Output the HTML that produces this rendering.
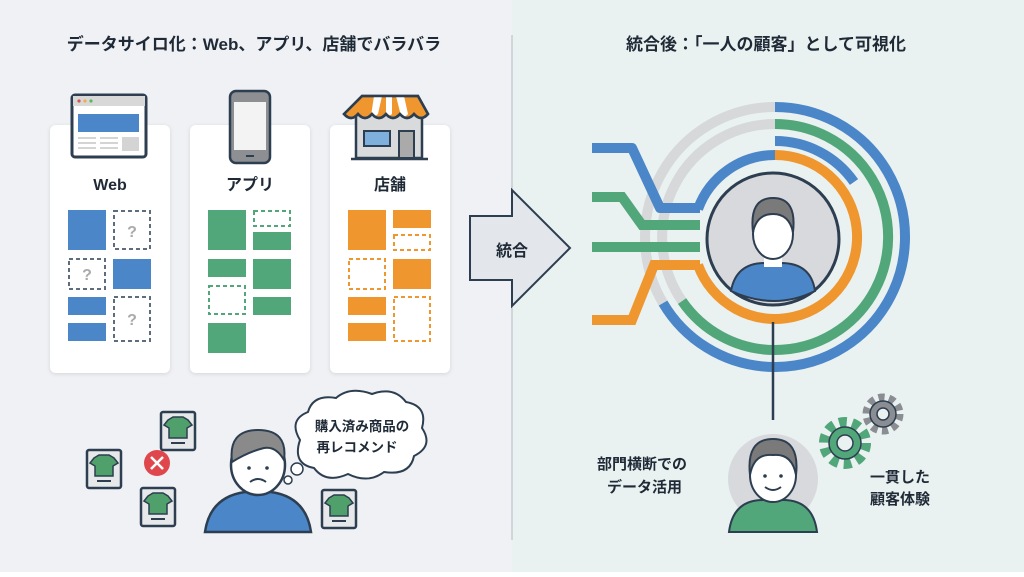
<!DOCTYPE html>
<html><head><meta charset="utf-8"><style>
html,body{margin:0;padding:0}
body{width:1024px;height:572px;overflow:hidden;font-family:"Liberation Sans","Noto Sans CJK JP",sans-serif}
</style></head><body>
<svg width="1024" height="572" viewBox="0 0 1024 572" xmlns="http://www.w3.org/2000/svg" font-family="Liberation Sans, Noto Sans CJK JP, sans-serif">
<defs>
<filter id="sh" x="-10%" y="-10%" width="120%" height="120%"><feDropShadow dx="0" dy="1" stdDeviation="2" flood-color="#000" flood-opacity="0.12"/></filter>
<g id="shirt"><rect x="-17" y="-20" width="34" height="38" fill="#e6e8ea" stroke="#2d3e50" stroke-width="2.5" rx="2"/><path d="M-10,-12 l5,-3 h10 l5,3 l4,5 l-5,3 v10 h-18 v-10 l-5,-3z" fill="#4fa06a" stroke="#2d3e50" stroke-width="1.5"/><line x1="-7" y1="11" x2="7" y2="11" stroke="#2d3e50" stroke-width="2"/></g>
</defs>
<rect width="512" height="572" fill="#eff1f5"/>
<rect x="512" width="512" height="572" fill="#e9f1f1"/>
<line x1="512" y1="35" x2="512" y2="540" stroke="#c8ccd2" stroke-width="1.5"/>
<text x="254" y="50" text-anchor="middle" font-size="17" font-weight="bold" fill="#1f2a36">データサイロ化：Web、アプリ、店舗でバラバラ</text>
<text x="766" y="50" text-anchor="middle" font-size="17" font-weight="bold" fill="#1f2a36">統合後：「一人の顧客」として可視化</text>

<g filter="url(#sh)" fill="#fff">
<rect x="50" y="125" width="120" height="248" rx="6"/>
<rect x="190" y="125" width="120" height="248" rx="6"/>
<rect x="330" y="125" width="120" height="248" rx="6"/>
</g>
<rect x="72" y="95" width="74" height="62" rx="3" fill="#fff" stroke="#2d3e50" stroke-width="3"/>
<rect x="73" y="96" width="72" height="10" fill="#d8d8d8"/>
<circle cx="79" cy="101" r="1.6" fill="#d9534f"/><circle cx="85" cy="101" r="1.6" fill="#f0ad4e"/><circle cx="91" cy="101" r="1.6" fill="#5cb85c"/>
<rect x="78" y="114" width="61" height="18" fill="#4a86c8"/>
<g fill="#d4d4d4"><rect x="78" y="137" width="18" height="2"/><rect x="100" y="137" width="18" height="2"/><rect x="78" y="142" width="18" height="2"/><rect x="100" y="142" width="18" height="2"/><rect x="78" y="147" width="18" height="2"/><rect x="100" y="147" width="18" height="2"/><rect x="122" y="137" width="17" height="14"/></g>
<rect x="230" y="91" width="40" height="72" rx="6" fill="#8d8f93" stroke="#2d3e50" stroke-width="2.5"/>
<rect x="234" y="102" width="32" height="48" fill="#f3f3f3"/>
<rect x="246" y="155" width="8" height="2" fill="#2d3e50"/>
<rect x="356" y="113" width="66" height="45" fill="#d9dadc" stroke="#2d3e50" stroke-width="2.5"/>
<rect x="364" y="131" width="26" height="15" fill="#7fb0dc" stroke="#2d3e50" stroke-width="2"/>
<rect x="399" y="131" width="15" height="27" fill="#aaa" stroke="#2d3e50" stroke-width="2"/>
<path d="M362,96 h56 l10,18 q-7,8 -14,0 q-7,8 -14,0 q-7,8 -14,0 q-7,8 -14,0 q-7,8 -14,0 q-7,8 -14,0z" fill="#f0962e" stroke="#2d3e50" stroke-width="2.5"/>
<g fill="#fff"><path d="M374,96 h8 l-4,18 q-4,4 -7,2z"/><path d="M396,96 h8 l4,18 q-3,4 -7,2z"/><path d="M386,96 h6 v18 q-3,3 -6,0z"/></g>
<path d="M362,96 h56 l10,18 q-7,8 -14,0 q-7,8 -14,0 q-7,8 -14,0 q-7,8 -14,0 q-7,8 -14,0 q-7,8 -14,0z" fill="none" stroke="#2d3e50" stroke-width="2.5"/>
<line x1="351" y1="159" x2="428" y2="159" stroke="#2d3e50" stroke-width="2.5"/>
<g font-size="16" font-weight="bold" fill="#1f2a36" text-anchor="middle">
<text x="110" y="190">Web</text><text x="250" y="190">アプリ</text><text x="390" y="190">店舗</text></g>
<g fill="#4a86c8"><rect x="68" y="210" width="38" height="40"/><rect x="113" y="259" width="38" height="30"/><rect x="68" y="297" width="38" height="18"/><rect x="68" y="323" width="38" height="18"/></g>
<g fill="none" stroke="#5d6d7e" stroke-width="2" stroke-dasharray="4,3"><rect x="114" y="211" width="36" height="38"/><rect x="69" y="259" width="36" height="30"/><rect x="114" y="297" width="36" height="44"/></g>
<g fill="#aaa" font-size="16" font-weight="bold" text-anchor="middle"><text x="132" y="237">?</text><text x="87" y="280">?</text><text x="132" y="325">?</text></g>
<g fill="#52a77a"><rect x="208" y="210" width="38" height="40"/><rect x="253" y="232" width="38" height="18"/><rect x="208" y="259" width="38" height="18"/><rect x="253" y="259" width="38" height="30"/><rect x="253" y="297" width="38" height="18"/><rect x="208" y="323" width="38" height="30"/></g>
<g fill="none" stroke="#52a77a" stroke-width="2" stroke-dasharray="4,3"><rect x="254" y="211" width="36" height="15"/><rect x="209" y="286" width="36" height="28"/></g>
<g fill="#f0962e"><rect x="348" y="210" width="38" height="40"/><rect x="393" y="210" width="38" height="18"/><rect x="393" y="259" width="38" height="30"/><rect x="348" y="297" width="38" height="18"/><rect x="348" y="323" width="38" height="18"/></g>
<g fill="none" stroke="#f0962e" stroke-width="2" stroke-dasharray="4,3"><rect x="394" y="235" width="36" height="15"/><rect x="349" y="259" width="36" height="30"/><rect x="394" y="297" width="36" height="44"/></g>

<use href="#shirt" x="104" y="470"/><use href="#shirt" x="178" y="432"/><use href="#shirt" x="158" y="508"/><use href="#shirt" x="339" y="510"/>
<circle cx="157" cy="463" r="13" fill="#e0474c"/><path d="M151,457 l12,12 M163,457 l-12,12" stroke="#fff" stroke-width="2.5"/>
<path d="M205,532 q5,-35 40,-40 h26 q35,5 40,40z" fill="#4a86c8" stroke="#2d3e50" stroke-width="2.5"/>
<ellipse cx="258" cy="465" rx="27" ry="30" fill="#fff" stroke="#2d3e50" stroke-width="2.5"/>
<path d="M232,462 q-4,-32 26,-32 q30,0 26,30 q-8,-14 -20,-12 q-16,4 -32,14z" fill="#8a8a8a" stroke="#2d3e50" stroke-width="2"/>
<path d="M250,482 q8,-6 16,0" fill="none" stroke="#2d3e50" stroke-width="2"/>
<circle cx="249" cy="468" r="1.8" fill="#2d3e50"/><circle cx="267" cy="468" r="1.8" fill="#2d3e50"/>
<circle cx="288" cy="480" r="4" fill="#fff" stroke="#2d3e50" stroke-width="1.5"/><circle cx="297" cy="469" r="6" fill="#fff" stroke="#2d3e50" stroke-width="1.5"/>
<path d="M300,440 q-12,-20 8,-28 q5,-18 28,-14 q14,-12 36,-4 q22,-8 34,8 q22,4 16,26 q12,18 -8,28 q-4,20 -30,16 q-16,12 -36,2 q-22,10 -34,-6 q-22,-4 -14,-28z" fill="#fff" stroke="#2d3e50" stroke-width="2"/>
<text x="362" y="431" text-anchor="middle" font-size="13.5" font-weight="bold" fill="#1f2a36">購入済み商品の</text>
<text x="357" y="452" text-anchor="middle" font-size="13.5" font-weight="bold" fill="#1f2a36">再レコメンド</text>

<path d="M470,216 h42 v-26 l58,58 l-58,58 v-26 h-42z" fill="#e3e7ec" stroke="#2d3e50" stroke-width="2"/>
<text x="512" y="256" text-anchor="middle" font-size="16" font-weight="bold" fill="#1f2a36">統合</text>

<g fill="none" stroke-width="10">
<path d="M775,107 A130,130 0 1 1 663,303" stroke="#4a86c8"/>
<path d="M663,303 A130,130 0 0 1 775,107" stroke="#d6d8da"/>
<path d="M775,124 A113,113 0 1 1 682,301" stroke="#52a77a"/>
<path d="M682,301 A113,113 0 0 1 775,124" stroke="#d6d8da"/>
<path d="M775,141 A96,96 0 0 1 854,182" stroke="#4a86c8"/>
<path d="M775,155 A82,82 0 1 1 698,265" stroke="#f0962e"/>
<path d="M775,155 A82,82 0 0 0 698,209" stroke="#4a86c8"/>
<path d="M592,148 h40 l28,60 h40" stroke="#4a86c8" stroke-linejoin="round"/>
<path d="M592,197 h30 l20,28 h58" stroke="#52a77a"/>
<path d="M592,247 h108" stroke="#52a77a"/>
<path d="M592,320 h40 l22,-55 h46" stroke="#f0962e"/>
</g>
<circle cx="773" cy="239" r="66" fill="#d8d9dc" stroke="#2d3e50" stroke-width="3"/>
<path d="M731,291 q5,-28 34,-28 h16 q30,0 34,28 q-40,20 -84,0z" fill="#4a86c8" stroke="#2d3e50" stroke-width="2"/>
<rect x="764" y="255" width="18" height="12" fill="#fff"/>
<ellipse cx="773" cy="234" rx="20" ry="25" fill="#fff" stroke="#2d3e50" stroke-width="2"/>
<path d="M753,232 q-4,-34 20,-34 q24,0 20,34 q-4,-18 -20,-18 q-16,0 -20,18z" fill="#7a7a7a" stroke="#2d3e50" stroke-width="2"/>
<line x1="773" y1="322" x2="773" y2="420" stroke="#2d3e50" stroke-width="2.5"/>

<circle cx="773" cy="479" r="45" fill="#d8d9dc"/>
<path d="M729,532 q4,-32 34,-32 h20 q30,0 34,32z" fill="#52a77a" stroke="#2d3e50" stroke-width="2"/>
<ellipse cx="773" cy="475" rx="23" ry="27" fill="#fff" stroke="#2d3e50" stroke-width="2"/>
<path d="M750,475 q-4,-36 23,-36 q27,0 23,36 q-4,-22 -23,-20 q-19,-2 -23,20z" fill="#7a7a7a" stroke="#2d3e50" stroke-width="2"/>
<circle cx="765" cy="476" r="1.8" fill="#2d3e50"/><circle cx="781" cy="476" r="1.8" fill="#2d3e50"/>
<path d="M765,487 q8,6 16,0" fill="none" stroke="#2d3e50" stroke-width="2"/>
<g transform="translate(845,443)"><circle r="19" fill="none" stroke="#52a77a" stroke-width="14" stroke-dasharray="7,5"/><circle r="16" fill="#52a77a" stroke="#2d3e50" stroke-width="1.5"/><circle r="8" fill="#e9f1f1" stroke="#2d3e50" stroke-width="1.5"/></g>
<g transform="translate(883,414)"><circle r="15" fill="none" stroke="#8a8d91" stroke-width="11" stroke-dasharray="5.5,4"/><circle r="13" fill="#8a8d91" stroke="#2d3e50" stroke-width="1.5"/><circle r="6" fill="#e9f1f1" stroke="#2d3e50" stroke-width="1.5"/></g>
<g font-size="15" font-weight="bold" fill="#1f2a36">
<text x="597" y="469">部門横断での</text><text x="607" y="492">データ活用</text>
<text x="870" y="482">一貫した</text><text x="870" y="504">顧客体験</text></g>
</svg>
</body></html>
